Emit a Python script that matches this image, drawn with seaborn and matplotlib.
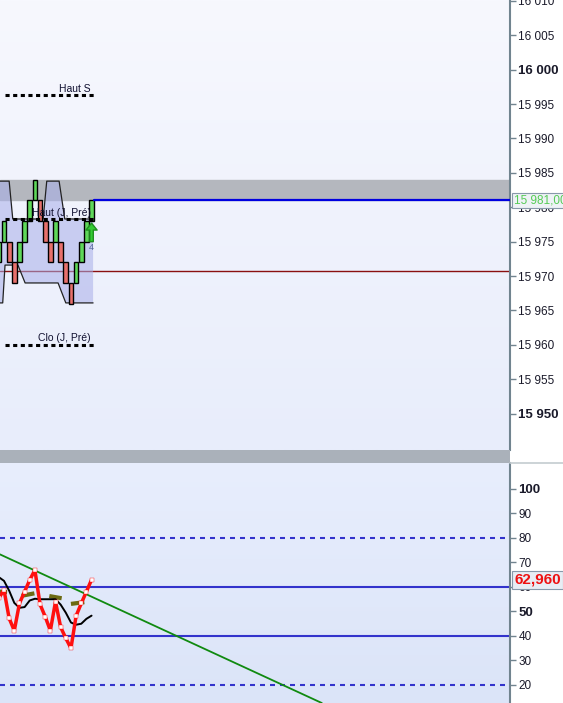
import numpy as np
import matplotlib
matplotlib.use('Agg')
import matplotlib.pyplot as plt
import matplotlib.transforms as mtransforms
from matplotlib.colors import LinearSegmentedColormap
from matplotlib.patches import Rectangle
from matplotlib.lines import Line2D
import seaborn as sns

# ─── Data ────────────────────────────────────────────────────────────────────

# renko bricks (one per bar index)
brick_open  = [15972, 15975, 15975, 15972, 15972, 15975, 15978, 15981, 15981, 15978,
               15975, 15975, 15975, 15972, 15969, 15969, 15972, 15975, 15978]
brick_close = [15975, 15978, 15972, 15969, 15975, 15978, 15981, 15984, 15978, 15975,
               15972, 15978, 15972, 15969, 15966, 15972, 15975, 15978, 15981]

# envelope "cloud" behind the bricks
cloud_up_x = [0.2, 2.0, 2.7, 8.6, 9.3, 11.7, 12.8, 18.3]
cloud_up_y = [15983.8, 15983.8, 15978.3, 15978.3, 15983.8, 15983.8, 15978.3, 15978.3]
cloud_lo_x = [0.2, 0.75, 1.2, 3.7, 5.1, 11.5, 13.0, 18.3]
cloud_lo_y = [15966.1, 15966.1, 15971.6, 15971.6, 15969.0, 15969.0, 15966.1, 15966.1]

level_names  = ['Haut S', 'Haut (J, Pré)', 'Clo (J, Pré)']
level_values = [15996.25, 15978.25, 15960.0]
level_span   = [1.2, 18.7]

zone_low, zone_high = 15981.0, 15984.0
last_price = 15981.0
pivot_line = 15970.75

signal_bar, signal_from, signal_to, signal_count = 18, 15975.0, 15977.7, '4'

price_ticks = [16010, 16005, 16000, 15995, 15990, 15985, 15980, 15975,
               15970, 15965, 15960, 15955, 15950]

# oscillator panel
rsi_values = [55.5, 58.8, 47.2, 42.2, 53.3, 58.1, 62.9, 66.9, 52.9, 47.9,
              42.2, 54.0, 43.6, 39.1, 35.0, 48.2, 53.3, 58.1, 62.96]
rsi_ma = [64.0, 62.5, 58.5, 53.5, 51.5, 51.8, 54.5, 55.2, 55.0, 55.0,
          55.0, 55.0, 52.8, 49.5, 45.5, 44.6, 45.0, 47.0, 48.3]
seg_x0 = [0.2, 4.4, 9.8, 14.0]
seg_x1 = [1.6, 6.9, 12.2, 16.6]
seg_y0 = [58.1, 56.4, 56.3, 53.1]
seg_y1 = [57.9, 57.4, 55.4, 53.8]
trend_x = [0.22, 39.06]
trend_y = [73.3, 35.6]
osc_solid  = [60, 40]
osc_dashed = [80, 20]
osc_ticks  = [100, 90, 80, 70, 60, 50, 40, 30, 20]

XLIM = (0.223, 99.25)

# ─── Style ───────────────────────────────────────────────────────────────────

sns.set_style('white')
plt.rcParams['font.family'] = ['Liberation Sans', 'DejaVu Sans']

W, H = 563, 703
fig = plt.figure(figsize=(W / 100, H / 100), dpi=100)
fig.patch.set_facecolor('white')

ax1 = fig.add_axes([0, 1 - 450 / H, 510 / W, 450 / H])
ax2 = fig.add_axes([0, 0, 510 / W, 240 / H])


def gradient(ax, top, bottom):
    cmap = LinearSegmentedColormap.from_list('bg', [top, bottom])
    ax.imshow(np.linspace(0, 1, 256)[:, None], cmap=cmap, extent=[0, 1, 0, 1],
              transform=ax.transAxes, aspect='auto', zorder=0)


def style_axis(ax):
    for s in ['top', 'left', 'bottom']:
        ax.spines[s].set_visible(False)
    ax.spines['right'].set_color('#71848f')
    ax.spines['right'].set_linewidth(1.5)
    ax.yaxis.tick_right()
    ax.set_xticks([])
    ax.tick_params(axis='y', length=4, width=1, color='#71848f', pad=2,
                   labelsize=8.5, labelcolor='#1a1a2a')


# ─── Price panel ─────────────────────────────────────────────────────────────

gradient(ax1, '#f7f8fe', '#e8edfb')

ax1.axhspan(zone_low, zone_high, color='#b4b7be', zorder=1)
ax1.axhline(pivot_line, color='#8a1010', lw=1, zorder=1)

poly_x = cloud_up_x + cloud_lo_x[::-1]
poly_y = cloud_up_y + cloud_lo_y[::-1]
ax1.fill(poly_x, poly_y, facecolor='#a8aee8', alpha=0.55, edgecolor='none', zorder=2)
ax1.plot(cloud_up_x, cloud_up_y, color='#222222', lw=0.9, zorder=2.5)
ax1.plot(cloud_lo_x, cloud_lo_y, color='#222222', lw=0.9, zorder=2.5)

bars = np.arange(len(brick_open))
o = np.array(brick_open)
c = np.array(brick_close)
colors = np.where(c >= o, '#5fd85a', '#e8706c')
ax1.bar(bars, c - o, bottom=o, width=0.92, color=colors,
        edgecolor='black', linewidth=1.0, zorder=3)

ax1.axhline(last_price, xmin=(signal_bar + 0.4 - XLIM[0]) / (XLIM[1] - XLIM[0]),
            color='#0000e0', lw=1.6, zorder=3)

for name, val in zip(level_names, level_values):
    ax1.plot(level_span, [val, val], color='black', lw=2.2,
             linestyle=(0, (1.35, 1.15)), zorder=4)
    ax1.annotate(name, xy=(level_span[1] - 0.8, val), xytext=(0, 1),
                 textcoords='offset points', ha='right', va='bottom',
                 fontsize=7.5, color='#101030', zorder=5)

ax1.annotate('', xy=(signal_bar, signal_to), xytext=(signal_bar, signal_from),
             arrowprops=dict(facecolor='#33cc33', edgecolor='#1f8f1f', width=2.5,
                             headwidth=8, headlength=5, shrink=0), zorder=5)
ax1.text(signal_bar, signal_from - 0.2, signal_count, ha='center', va='top',
         fontsize=6.5, color='#556699', zorder=5)

ax1.set_xlim(*XLIM)
ax1.set_ylim(15944.72, 16010.13)
style_axis(ax1)
ax1.set_yticks(price_ticks)
ax1.set_yticklabels([f'{t:,}'.replace(',', ' ') for t in price_ticks])
for lab in ax1.get_yticklabels():
    if lab.get_text() in ('16 000', '15 950'):
        lab.set_fontweight('bold')
        lab.set_fontsize(9.5)

trans1 = mtransforms.blended_transform_factory(ax1.transAxes, ax1.transData)
ax1.text(1.008, last_price, '15 981,00', transform=trans1, ha='left', va='center',
         fontsize=8.5, color='#55cc55', clip_on=False, zorder=10,
         bbox=dict(boxstyle='square,pad=0.15', facecolor='#eef2f6', edgecolor='#8899aa', lw=0.8))

# ─── Separator ───────────────────────────────────────────────────────────────

fig.patches.append(Rectangle((0, 240 / H), 510 / W, 13 / H, transform=fig.transFigure,
                             facecolor='#aab1ba', edgecolor='none', zorder=0))
fig.lines.append(Line2D([510 / W, 1], [240 / H, 240 / H], transform=fig.transFigure,
                        color='#c4cccf', lw=1.2))

# ─── Oscillator panel ────────────────────────────────────────────────────────

gradient(ax2, '#e8eefd', '#dbe4f8')

for v in osc_solid:
    ax2.axhline(v, color='#3333cc', lw=1.5, zorder=1)
for v in osc_dashed:
    ax2.axhline(v, color='#3333cc', lw=1.5, linestyle=(0, (2.4, 2.4)), zorder=1)

ax2.axline((trend_x[0], trend_y[0]), (trend_x[1], trend_y[1]), color='#108a10', lw=1.3, zorder=2)

for x0, x1, y0, y1 in zip(seg_x0, seg_x1, seg_y0, seg_y1):
    ax2.plot([x0, x1], [y0, y1], color='#6b6a12', lw=3, solid_capstyle='butt', zorder=2)

sns.lineplot(x=bars, y=rsi_ma, ax=ax2, color='black', lw=1.4, zorder=3)
sns.lineplot(x=bars, y=rsi_values, ax=ax2, color='#ff1010', lw=2.5, zorder=4,
             marker='s', markersize=2.2, markerfacecolor='white',
             markeredgecolor='#ff1010', markeredgewidth=0.3)

ax2.set_xlim(*XLIM)
ax2.set_ylim(12.65, 110.6)
style_axis(ax2)
ax2.set_yticks(osc_ticks)
ax2.set_yticklabels([str(t) for t in osc_ticks])
for lab in ax2.get_yticklabels():
    if lab.get_text() in ('100', '50'):
        lab.set_fontweight('bold')
        lab.set_fontsize(9.5)

trans2 = mtransforms.blended_transform_factory(ax2.transAxes, ax2.transData)
ax2.text(1.008, rsi_values[-1], '62,960', transform=trans2, ha='left', va='center',
         fontsize=11, fontweight='bold', color='#ee1111', clip_on=False, zorder=10,
         bbox=dict(boxstyle='square,pad=0.12', facecolor='#e8edf4', edgecolor='#8899aa', lw=0.8))

fig.savefig('out.png', dpi=100)
